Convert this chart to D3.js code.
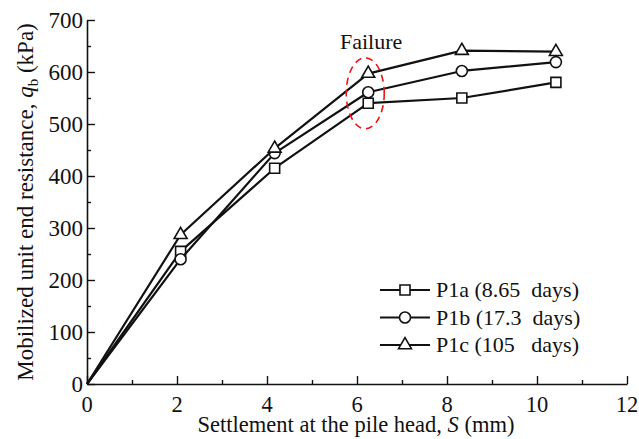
<!DOCTYPE html>
<html>
<head>
<meta charset="utf-8">
<script src="https://cdn.jsdelivr.net/npm/d3@7/dist/d3.min.js"></script>
<style>
  html, body { margin: 0; padding: 0; background: #fff; }
  svg { display: block; }
  text { font-family: "Liberation Serif", "Times New Roman", serif; fill: #111; }
</style>
</head>
<body>
<svg id="chart" width="639" height="439"></svg>
<script>
// Settlement at the pile head (mm)
const settlement = [0, 2.08, 4.17, 6.25, 8.33, 10.42];
// Mobilized unit end resistance (kPa) for each test
const p1a = [0, 255, 415, 540, 550, 580];
const p1b = [0, 240, 444, 561, 602, 619];
const p1c = [0, 287, 453, 597, 641, 639];
const seriesNames = ["P1a (8.65  days)", "P1b (17.3  days)", "P1c (105   days)"];
const xTicks = [0, 2, 4, 6, 8, 10, 12];
const yTicks = [0, 100, 200, 300, 400, 500, 600, 700];
// Point where failure is marked
const failureAt = { s: 6.25, q: 560 };

const svg = d3.select("#chart");

const x = d3.scaleLinear().domain([0, 12]).range([87, 627]);
const y = d3.scaleLinear().domain([0, 700]).range([384, 20]);

const series = [
  { name: seriesNames[0], values: p1a, symbol: d3.symbolSquare, size: 100 },
  { name: seriesNames[1], values: p1b, symbol: d3.symbolCircle, size: 95 },
  { name: seriesNames[2], values: p1c, symbol: d3.symbolTriangle, size: 72 }
];

// Axes with inward ticks, majors and minors
function drawXAxis() {
  const g = svg.append("g").attr("transform", `translate(0,${y(0)})`);
  g.call(d3.axisBottom(x).tickValues(d3.range(1, 12, 2)).tickSize(-4).tickFormat(""))
    .call(a => a.select(".domain").remove());
  g.append("g").call(d3.axisBottom(x).tickValues(xTicks).tickSize(-8).tickSizeOuter(0).tickFormat(""));
  g.selectAll("line").attr("stroke", "#111").attr("stroke-width", 1.4);
  g.selectAll(".domain").attr("stroke", "#111").attr("stroke-width", 1.6);
  g.append("g").selectAll("text").data(xTicks).join("text")
    .attr("x", d => x(d)).attr("y", 27.5)
    .attr("text-anchor", "middle").attr("font-size", 22.5)
    .text(d => d);
}
function drawYAxis() {
  const g = svg.append("g").attr("transform", `translate(${x(0)},0)`);
  g.call(d3.axisLeft(y).tickValues(d3.range(50, 700, 100)).tickSize(-4).tickFormat(""))
    .call(a => a.select(".domain").remove());
  g.append("g").call(d3.axisLeft(y).tickValues(yTicks).tickSize(-8).tickSizeOuter(0).tickFormat(""));
  g.selectAll("line").attr("stroke", "#111").attr("stroke-width", 1.4);
  g.selectAll(".domain").attr("stroke", "#111").attr("stroke-width", 1.6);
  g.append("g").selectAll("text").data(yTicks).join("text")
    .attr("x", -4).attr("y", d => y(d)).attr("dy", "0.34em")
    .attr("text-anchor", "end").attr("font-size", 23)
    .text(d => d);
}
drawXAxis();
drawYAxis();

// Axis titles
svg.append("text")
  .attr("x", 356).attr("y", 432)
  .attr("text-anchor", "middle").attr("font-size", 22.5)
  .call(t => {
    t.append("tspan").text("Settlement at the pile head, ");
    t.append("tspan").attr("font-style", "italic").text("S");
    t.append("tspan").text(" (mm)");
  });

svg.append("text")
  .attr("transform", "translate(33,202) rotate(-90)")
  .attr("text-anchor", "middle").attr("font-size", 23)
  .call(t => {
    t.append("tspan").text("Mobilized unit end resistance, ");
    t.append("tspan").attr("font-style", "italic").text("q");
    t.append("tspan").attr("font-size", 15).attr("dy", 5).text("b");
    t.append("tspan").attr("dy", -5).text(" (kPa)");
  });

// Curves and markers
const line = d3.line().x(d => x(d[0])).y(d => y(d[1]));
series.forEach(s => {
  const pts = settlement.map((v, i) => [v, s.values[i]]);
  svg.append("path").datum(pts)
    .attr("d", line).attr("fill", "none")
    .attr("stroke", "#111").attr("stroke-width", 2.2).attr("stroke-linejoin", "round");
  svg.append("g").selectAll("path").data(pts.filter(p => p[0] > 0)).join("path")
    .attr("transform", p => `translate(${x(p[0])},${y(p[1])})`)
    .attr("d", d3.symbol().type(s.symbol).size(s.size))
    .attr("fill", "#fff").attr("stroke", "#111").attr("stroke-width", 1.6);
});

// Failure annotation
svg.append("ellipse")
  .attr("cx", x(failureAt.s) - 3).attr("cy", y(failureAt.q) + 0.5)
  .attr("rx", 19).attr("ry", 35.5)
  .attr("fill", "none").attr("stroke", "#ee1111").attr("stroke-width", 1.6)
  .attr("stroke-dasharray", "7,5");
svg.append("text")
  .attr("x", 340).attr("y", 49)
  .attr("font-size", 22).text("Failure");

// Legend
const legend = svg.append("g");
series.forEach((s, i) => {
  const ly = 290 + i * 27.5;
  legend.append("line").attr("x1", 380).attr("x2", 430).attr("y1", ly).attr("y2", ly)
    .attr("stroke", "#111").attr("stroke-width", 2.2);
  legend.append("path").attr("transform", `translate(405,${ly})`)
    .attr("d", d3.symbol().type(s.symbol).size(s.size))
    .attr("fill", "#fff").attr("stroke", "#111").attr("stroke-width", 1.6);
  legend.append("text").attr("x", 436).attr("y", ly).attr("dy", "0.33em")
    .attr("font-size", 22).style("white-space", "pre").text(s.name);
});
</script>
</body>
</html>
